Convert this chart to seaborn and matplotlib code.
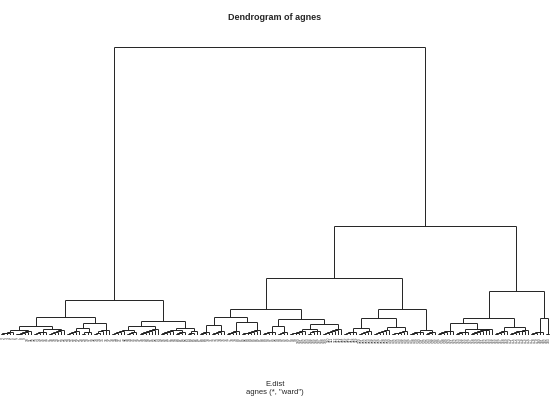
import matplotlib
matplotlib.use("Agg")
import matplotlib.pyplot as plt
import seaborn as sns
from matplotlib.collections import LineCollection

# small bottom clusters, left to right: heights of the successive (ladder) merges
cluster_heights = [
    [1.0, 1.6, 2.4, 3.1], [0.9, 1.5, 2.2, 2.9, 3.8], [1.2, 2.0, 2.7, 3.5],
    [1.1, 1.9, 3.0, 4.2, 4.6], [1.3, 2.2, 3.4, 4.0], [1.0, 2.6, 3.3],
    [1.4, 2.5, 3.9, 4.8, 5.2], [1.2, 2.0, 2.9, 3.8], [0.8, 1.7, 2.6],
    [1.5, 2.3, 3.2, 4.1, 5.5, 6.0], [1.1, 2.4, 3.0, 3.6], [1.3, 2.1, 2.8],
    [0.9, 1.9, 4.2], [1.2, 2.0, 3.1], [1.0, 1.8, 2.6, 4.4],
    [1.4, 2.2, 3.0, 3.9], [0.9, 1.6, 2.5, 3.3, 4.1, 4.8], [1.1, 2.0, 2.8, 3.5],
    [1.3, 2.1, 3.3], [1.0, 1.7, 2.4, 3.2, 4.0], [1.2, 2.6, 3.6, 4.5],
    [1.5, 2.3, 3.0, 3.8, 5.0, 5.6], [1.0, 1.9, 2.7, 3.4], [1.3, 2.2, 3.1, 4.3],
    [1.2, 2.0, 2.9, 3.6, 4.6], [0.9, 1.8, 2.5, 3.5, 4.4], [1.1, 2.0, 2.8, 3.4],
    [0.9, 1.7, 2.6], [1.2, 2.1, 3.0, 3.8, 4.4], [1.0, 1.8, 2.7, 3.5],
    [1.3, 2.2, 2.9, 3.9, 4.7, 5.3, 5.9], [1.1, 1.9, 2.8, 3.6],
    [1.0, 2.3, 3.1, 3.9, 4.5, 5.0], [1.2, 2.0, 2.7, 3.3], [1.4],
]

# upper merges (m0, m1, ...): children and height
merge_left = ["c0", "c2", "m0", "c4", "m3", "m2", "c7", "m6", "c10", "m8", "m7", "m5",
              "c13", "c15", "m12", "c17", "c19", "m16", "m15", "m14",
              "c22", "c24", "m20", "c26", "m22", "m19",
              "c29", "c28", "c31", "m27", "c33", "m29", "m25", "m11"]
merge_right = ["c1", "c3", "m1", "c5", "c6", "m4", "c8", "c9", "c11", "c12", "m9", "m10",
               "c14", "c16", "m13", "c18", "c20", "c21", "m17", "m18",
               "c23", "c25", "m21", "c27", "m23", "m24",
               "c30", "m26", "c32", "m28", "c34", "m30", "m31", "m32"]
merge_height = [5.5, 6.5, 9, 7.5, 12, 18, 5.0, 9, 5.0, 7, 14, 35,
                10, 13, 18, 9, 6, 11, 16, 26,
                7, 8, 17, 5, 26, 57,
                6.5, 12, 8, 17, 17, 44, 109, 288]

n_leaves = sum(len(h) + 1 for h in cluster_heights)
leaf_labels = [str(i) for i in range(1, n_leaves + 1)]

sns.set_theme(style="white")
plt.rcParams['font.family'] = ['Liberation Sans', 'DejaVu Sans']

segments = []
nodes = {}
leaf = 0
for k, hs in enumerate(cluster_heights):
    x, h = leaf, 0.0
    leaf += 1
    for step in hs:
        segments += [[(x, h), (x, step)], [(leaf, 0), (leaf, step)], [(x, step), (leaf, step)]]
        x, h = (x + leaf) / 2, step
        leaf += 1
    nodes[f"c{k}"] = (x, h)

for i, (l, r, h) in enumerate(zip(merge_left, merge_right, merge_height)):
    (xl, hl), (xr, hr) = nodes[l], nodes[r]
    segments += [[(xl, hl), (xl, h)], [(xr, hr), (xr, h)], [(xl, h), (xr, h)]]
    nodes[f"m{i}"] = ((xl + xr) / 2, h)

fig = plt.figure(figsize=(5.5, 4), dpi=100)
ax = fig.add_axes([0.0, 0.1625, 1.0, 0.72])
ax.add_collection(LineCollection(segments, colors="#222222", linewidths=0.7))
ax.set_xlim(-0.33, n_leaves - 1 + 0.33)
ax.set_ylim(0, 288)
ax.set_xticks(range(n_leaves))
ax.set_xticklabels(leaf_labels, rotation=90, fontsize=2.4, color="#333333")
ax.tick_params(axis="x", length=0, pad=1.5)
ax.set_yticks([])
sns.despine(ax=ax, left=True, bottom=True)

fig.text(0.5, 1 - 18 / 400, "Dendrogram of agnes", ha="center", va="center",
         fontsize=6.5, fontweight="bold")
fig.text(0.5, 1 - 384 / 400, "E.dist", ha="center", va="center", fontsize=5.5)
fig.text(0.5, 1 - 393 / 400, 'agnes (*, "ward")', ha="center", va="center", fontsize=5.5)

fig.savefig("out.png", dpi=100, facecolor="white")
